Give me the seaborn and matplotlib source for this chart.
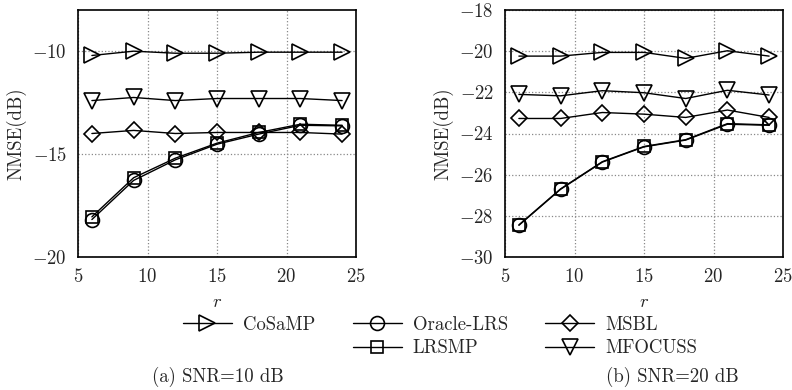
import numpy as np
import pandas as pd
import matplotlib
matplotlib.use('Agg')
import matplotlib.pyplot as plt
from matplotlib.lines import Line2D
import seaborn as sns

# values
r = [6, 9, 12, 15, 18, 21, 24]

# (a) SNR = 10 dB
cosamp_10 = [-10.21, -10.0, -10.1, -10.1, -10.05, -10.05, -10.05]
oracle_10 = [-18.18, -16.28, -15.28, -14.52, -14.03, -13.6, -13.63]
lrsmp_10 = [-18.05, -16.15, -15.2, -14.47, -13.95, -13.55, -13.6]
msbl_10 = [-14.0, -13.85, -14.0, -13.95, -13.95, -13.95, -14.03]
mfocuss_10 = [-12.4, -12.25, -12.4, -12.3, -12.3, -12.3, -12.4]

# (b) SNR = 20 dB
cosamp_20 = [-20.24, -20.24, -20.06, -20.06, -20.35, -19.98, -20.24]
oracle_20 = [-28.46, -26.71, -25.39, -24.65, -24.32, -23.55, -23.6]
lrsmp_20 = [-28.44, -26.69, -25.37, -24.63, -24.3, -23.52, -23.58]
msbl_20 = [-23.27, -23.27, -22.98, -23.06, -23.22, -22.86, -23.22]
mfocuss_20 = [-22.1, -22.17, -21.92, -22.02, -22.3, -21.9, -22.13]

methods = ['CoSaMP', 'Oracle-LRS', 'LRSMP', 'MSBL', 'MFOCUSS']
markers = {'CoSaMP': '>', 'Oracle-LRS': 'o', 'LRSMP': 's', 'MSBL': 'D', 'MFOCUSS': 'v'}
msizes = {'CoSaMP': 11, 'Oracle-LRS': 10, 'LRSMP': 8.5, 'MSBL': 8, 'MFOCUSS': 11}

def make_df(vals):
    rows = []
    for m, v in zip(methods, vals):
        for x, y in zip(r, v):
            rows.append({'r': x, 'NMSE': y, 'method': m})
    return pd.DataFrame(rows)

df10 = make_df([cosamp_10, oracle_10, lrsmp_10, msbl_10, mfocuss_10])
df20 = make_df([cosamp_20, oracle_20, lrsmp_20, msbl_20, mfocuss_20])

sns.set_style('white')
plt.rcParams['font.family'] = ['cmr10', 'DejaVu Serif']
plt.rcParams['mathtext.fontset'] = 'cm'
plt.rcParams['axes.formatter.use_mathtext'] = True
plt.rcParams['axes.unicode_minus'] = True

FS = 13.5

fig = plt.figure(figsize=(7.92, 3.9), dpi=100)
ax1 = fig.add_axes([78/792, 133/390, 278/792, 247/390])
ax2 = fig.add_axes([505/792, 133/390, 278/792, 247/390])

def draw(ax, df, ylim, yticks):
    for m in methods:
        sub = df[df['method'] == m]
        sns.lineplot(data=sub, x='r', y='NMSE', ax=ax, color='black', lw=1.0,
                     marker=markers[m], markersize=msizes[m], markerfacecolor='none',
                     markeredgecolor='black', markeredgewidth=1.2, legend=False)
    ax.set_xlim(5, 25)
    ax.set_ylim(*ylim)
    ax.set_xticks([5, 10, 15, 20, 25])
    ax.set_yticks(yticks)
    ax.grid(True, color='#888888', linestyle=':', linewidth=0.9)
    for s in ax.spines.values():
        s.set_color('black')
        s.set_linewidth(1.2)
    ax.tick_params(labelsize=FS, length=0, pad=8)
    ax.set_xlabel('$r$', fontsize=FS, labelpad=5)
    ax.set_ylabel('NMSE(dB)', fontsize=FS, labelpad=4)

draw(ax1, df10, (-20, -8), [-20, -15, -10])
draw(ax2, df20, (-30, -18), [-30, -28, -26, -24, -22, -20, -18])

def handle(m):
    return Line2D([], [], color='black', lw=1.0, marker=markers[m], markersize=msizes[m],
                  markerfacecolor='none', markeredgecolor='black', markeredgewidth=1.2)

blank = Line2D([], [], color='none')
handles = [handle('CoSaMP'), blank, handle('Oracle-LRS'), handle('LRSMP'), handle('MSBL'), handle('MFOCUSS')]
labels = ['CoSaMP', '', 'Oracle-LRS', 'LRSMP', 'MSBL', 'MFOCUSS']
fig.legend(handles, labels, ncol=3, loc='upper left', bbox_to_anchor=(183/792, 1 - 316/390),
           frameon=False, fontsize=FS, handlelength=2.6, handletextpad=0.6,
           columnspacing=2.0, labelspacing=0.3, borderpad=0, borderaxespad=0)

fig.text(218/792, 1 - 377/390, '(a) SNR=10 dB', ha='center', va='center', fontsize=FS)
fig.text(672/792, 1 - 377/390, '(b) SNR=20 dB', ha='center', va='center', fontsize=FS)

fig.savefig('out.png', dpi=100)
